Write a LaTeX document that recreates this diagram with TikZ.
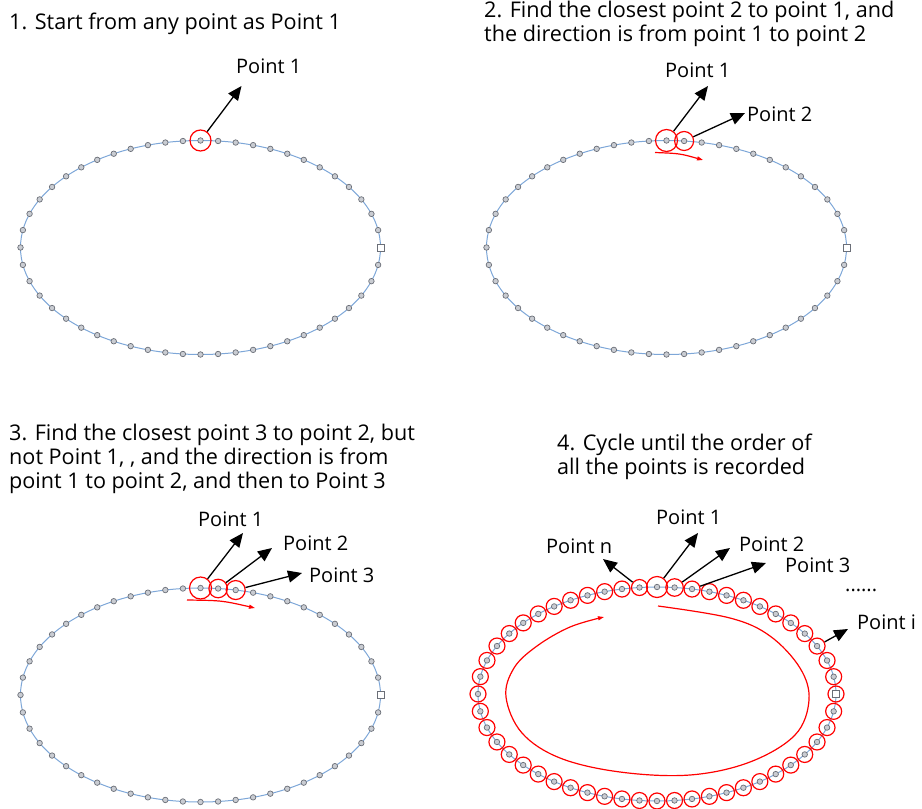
\documentclass[tikz,border=0pt]{standalone}
\usepackage{fontspec}
\setmainfont{Open Sans}
\usetikzlibrary{arrows.meta,decorations.markings}
\definecolor{curveblue}{HTML}{7EA7D8}
\definecolor{ptline}{HTML}{6B6F78}
\definecolor{ptfill}{HTML}{C9CCD2}
\newcount\ringidx

\begin{document}
\begin{tikzpicture}[x=1pt,y=-1pt,
txt/.style={anchor=base west,inner sep=0pt,align=left,font=\fontsize{20}{24}\selectfont},
title/.style={anchor=base west,inner sep=0pt,align=left,font=\fontsize{21.6}{24}\selectfont},
curve/.style={draw=curveblue,line width=1pt},
dot/.style={circle,draw=ptline,fill=ptfill,line width=0.7pt,inner sep=0pt,minimum size=5.5pt},
sqpt/.style={rectangle,draw=ptline,fill=white,line width=0.7pt,inner sep=0pt,minimum size=7pt},
pts/.style={postaction={decorate,decoration={markings,
  mark=at position 0 with {\global\ringidx=0 \node[sqpt] (#1-0) {};},
  mark=between positions 1/52 and 0.995 step 1/52 with {\global\advance\ringidx by 1 \node[dot] (#1-\the\ringidx) {};}}}},
ring/.style={circle,draw=red,line width=1.2pt,inner sep=0pt,minimum size=#1},
arr/.style={-{Triangle[length=14pt,width=12pt]},line width=1.3pt},
redarr/.style={red,line width=1.2pt,-{Triangle[length=6pt,width=4pt]}}]
\useasboundingbox (0,0) rectangle (922,809);

\node[title] (step1) at (9,29) {1. Start from any point as Point 1};
\draw[curve,pts=a] (200.5,247.5) ellipse [x radius=180,y radius=107];
\node[ring=21pt] (a1) at (a-39) {};
\node[txt] (a1lbl) at (236,73) {Point 1};
\coordinate (a1tip) at (241.5,86);
\draw[arr] (a1) -- (a1tip);

\node[title] (step2) at (484,41) {2. Find the closest point 2 to point 1, and\\the direction is from point 1 to point 2};
\draw[curve,pts=b] (666.5,247.5) ellipse [x radius=180,y radius=107];
\node[ring=22pt] (b1) at (b-39) {};
\node[ring=19pt] (b2) at (b-40) {};
\node[txt] (b1lbl) at (665,77) {Point 1};
\node[txt] (b2lbl) at (747,121) {Point 2};
\coordinate (b1tip) at (708,86);
\coordinate (b2tip) at (745,113);
\draw[arr] (b1) -- (b1tip);
\draw[arr] (b2) -- (b2tip);
\coordinate (b-from) at (655,152.5);
\coordinate (b-to) at (703,160);
\draw[redarr] (b-from) .. controls (680,153.5) .. (b-to);

\node[title] (step3) at (9,488) {3. Find the closest point 3 to point 2, but\\not Point 1, , and the direction is from\\point 1 to point 2, and then to Point 3};
\draw[curve,pts=c] (200.5,695) ellipse [x radius=180,y radius=107];
\node[ring=22pt] (c1) at (c-39) {};
\node[ring=18.5pt] (c2) at (c-40) {};
\node[ring=19pt] (c3) at (c-41) {};
\node[txt] (c1lbl) at (198,526) {Point 1};
\node[txt] (c2lbl) at (283,550) {Point 2};
\node[txt] (c3lbl) at (309,582) {Point 3};
\coordinate (c1tip) at (243,533);
\coordinate (c2tip) at (272,548);
\coordinate (c3tip) at (302,573);
\draw[arr] (c1) -- (c1tip);
\draw[arr] (c2) -- (c2tip);
\draw[arr] (c3) -- (c3tip);
\coordinate (c-from) at (187,600);
\coordinate (c-to) at (255,608);
\draw[redarr] (c-from) .. controls (222,600.5) .. (c-to);

\node[title] (step4) at (557,474) {4. Cycle until the order of\\all the points is recorded};
\draw[curve,pts=d] (657,694) ellipse [x radius=179,y radius=107];
\foreach \k in {0,...,38}
  \node[ring=16pt] (dr\k) at (d-\k) {};
\foreach \k in {41,...,51}
  \node[ring=16pt] (dr\k) at (d-\k) {};
\node[ring=21pt] (d1) at (d-39) {};
\node[ring=17.5pt] (d2) at (d-40) {};
\node[txt] (d1lbl) at (656,524) {Point 1};
\node[txt] (d2lbl) at (739,551) {Point 2};
\node[txt] (d3lbl) at (785,572) {Point 3};
\node[txt] (dnlbl) at (546,553) {Point n};
\node[txt] (dots) at (845,591) {......};
\node[txt] (dilbl) at (857,629) {Point i};
\coordinate (d1tip) at (698,533);
\coordinate (d2tip) at (730,548);
\coordinate (d3tip) at (766,563);
\coordinate (dntip) at (603,559);
\coordinate (ditip) at (848,629);
\draw[arr] (d1) -- (d1tip);
\draw[arr] (d2) -- (d2tip);
\draw[arr] (dr41) -- (d3tip);
\draw[arr] (dr38) -- (dntip);
\draw[arr] (dr49) -- (ditip);
\draw[redarr] plot[smooth,tension=0.6] coordinates {(658,606) (730,618) (770,636) (800,668) (809,700) (795,735) (750,762) (690,775) (620,772) (560,758) (522,733) (506,697) (514,668) (537,646) (570,627) (604,617)};
\end{tikzpicture}
\end{document}
